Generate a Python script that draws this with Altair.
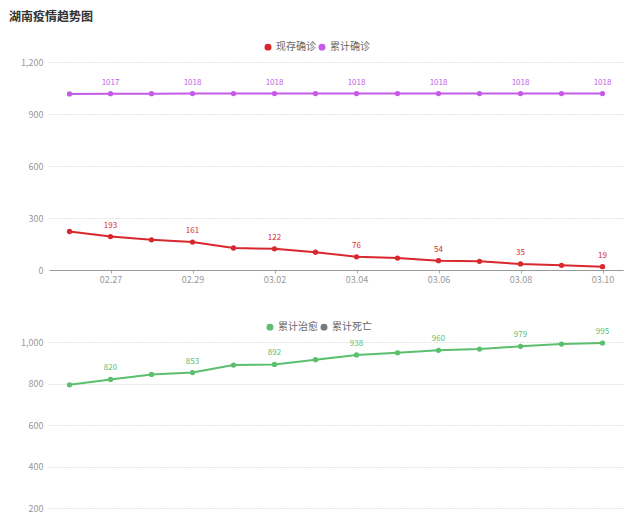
import altair as alt
import pandas as pd

dates = ["02.26", "02.27", "02.28", "02.29", "03.01", "03.02", "03.03",
         "03.04", "03.05", "03.06", "03.07", "03.08", "03.09", "03.10"]
existing = [222, 193, 174, 161, 127, 122, 103, 76, 69, 54, 50, 35, 27, 19]
confirmed = [1016, 1017, 1017, 1018, 1018, 1018, 1018, 1018, 1018, 1018, 1018, 1018, 1018, 1018]
cured = [794, 820, 844, 853, 889, 892, 915, 938, 948, 960, 966, 979, 990, 995]
deaths = [3, 3, 3, 4, 4, 4, 4, 4, 4, 4, 4, 4, 4, 4]

top_series = ["现存确诊", "累计确诊"]
top_colors = ["#d9272e", "#c55ce6"]
bot_series = ["累计治愈", "累计死亡"]
bot_colors = ["#5bbf6e", "#7a7a7a"]
label_dates = dates[1::2]

FONT = "Noto Sans CJK SC"


def long_df(names, series_list):
    rows = []
    for name, vals in zip(names, series_list):
        for i, (d, v) in enumerate(zip(dates, vals)):
            rows.append({"date": d, "value": v, "series": name, "idx": i,
                         "show": d in label_dates})
    return pd.DataFrame(rows)


top_df = long_df(top_series, [existing, confirmed])
bot_df = long_df(bot_series, [cured, deaths])


def panel(df, names, colors, ymax, yticks, legend_x, show_x=True):
    color = alt.Color("series:N", scale=alt.Scale(domain=names, range=colors),
                      sort=names,
                      legend=alt.Legend(title=None, orient="none", direction="horizontal",
                                        legendX=legend_x, legendY=-20, symbolType="circle",
                                        symbolSize=30, labelFontSize=10, labelColor="#666",
                                        columnPadding=0, labelOffset=3, labelFont=FONT))
    x = alt.X("date:O", sort=dates, title=None,
              scale=alt.Scale(padding=0.5),
              axis=alt.Axis(values=label_dates, labelAngle=0, labelColor="#999",
                            labelFontSize=9, labelPadding=2, tickSize=3, tickColor="#aaa",
                            domainColor="#999", grid=False, labelFont=FONT,
                            labels=show_x, ticks=show_x))
    y = alt.Y("value:Q", title=None,
              scale=alt.Scale(domain=[0, ymax], nice=False),
              axis=alt.Axis(values=yticks, labelExpr="format(datum.value, ',')",
                            labelColor="#999", labelFontSize=9,
                            labelPadding=6, domain=False, ticks=False,
                            minExtent=40, maxExtent=40,
                            gridColor="#c8c8c8", gridDash=[1, 2], labelFont=FONT))
    base = alt.Chart(df).encode(x=x, y=y, color=color)
    line = base.mark_line(strokeWidth=2)
    pts = base.mark_point(filled=True, size=28, opacity=1)
    txt = base.transform_filter("datum.show").mark_text(
        dy=-11, fontSize=8, font=FONT).encode(text="value:Q")
    return alt.layer(line, pts, txt).properties(
        width=574, height=208,
        view=alt.ViewBackground(strokeOpacity=0, strokeWidth=0))


top = panel(top_df, top_series, top_colors, 1200, [0, 300, 600, 900, 1200], 214)
bot = panel(bot_df, bot_series, bot_colors, 1000, [0, 200, 400, 600, 800, 1000], 216,
            show_x=False)

chart = alt.vconcat(top, bot, spacing=38).resolve_scale(color="independent").properties(
    title=alt.Title("湖南疫情趋势图", anchor="start", fontSize=12, fontWeight="bold",
                    color="#333", font=FONT, offset=18),
    padding={"left": 9, "top": 11, "right": 4, "bottom": 5},
).configure_view(strokeWidth=0, strokeOpacity=0).configure(font=FONT)

chart.save("out.html", embed_options={"renderer": "svg", "actions": False})
